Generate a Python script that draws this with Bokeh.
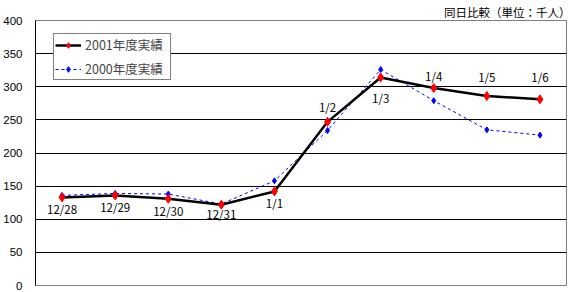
from bokeh.plotting import figure
from bokeh.models import Range1d, FactorRange, Legend, LegendItem, Title, ColumnDataSource, FixedTicker
from bokeh.core.properties import value
from bokeh.embed import file_html
from bokeh.resources import INLINE

dates = ["12/28", "12/29", "12/30", "12/31", "1/1", "1/2", "1/3", "1/4", "1/5", "1/6"]
y2001 = [133, 136, 131, 122, 142, 247, 314, 298, 286, 281]
y2000 = [136, 139, 138, 123, 158, 234, 326, 279, 235, 227]
y_ticks = [0, 50, 100, 150, 200, 250, 300, 350, 400]
title_text = "同日比較（単位：千人）"
name2001 = "2001年度実績"
name2000 = "2000年度実績"

# label placement (pixels, positive = below the point)
label_dy = [12, 12, 12, 9, 12, -15, 21, -12, -19, -22]

p = figure(width=571, height=292, x_range=FactorRange(*dates, range_padding=0),
           y_range=Range1d(0, 400), output_backend="svg", toolbar_location=None,
           min_border_left=32, min_border_right=5, min_border_top=2, min_border_bottom=7)

p.add_layout(Title(text=title_text, align="right", text_font_size="11.5px",
                   text_font="Noto Sans CJK JP", text_font_style="normal",
                   text_color="#000000", offset=-4, standoff=2), "above")

p.xaxis.visible = False
p.xgrid.grid_line_color = None
p.ygrid.grid_line_color = "#000000"
p.ygrid.grid_line_width = 1
p.ygrid.ticker = FixedTicker(ticks=y_ticks)
p.yaxis.ticker = FixedTicker(ticks=y_ticks)
p.yaxis.axis_line_color = "#000000"
p.yaxis.major_tick_line_color = None
p.yaxis.minor_tick_line_color = None
p.yaxis.major_label_standoff = 7
p.yaxis.major_label_text_font = "Liberation Sans"
p.yaxis.major_label_text_font_size = "11.5px"
p.yaxis.major_label_text_color = "#000000"
p.outline_line_color = "#808080"
p.outline_line_width = 1
p.background_fill_color = "white"

src = ColumnDataSource(dict(x=dates, y1=y2001, y0=y2000, dy=label_dy))

l0 = p.line("x", "y0", source=src, line_color="#0000ff", line_width=1, line_dash="3 3")
s0 = p.scatter("x", "y0", source=src, marker="diamond", size=6, fill_color="#0000ff", line_color="#0000ff")
l1 = p.line("x", "y1", source=src, line_color="#000000", line_width=2.5)
s1 = p.scatter("x", "y1", source=src, marker="diamond", size=9, fill_color="#ff0000", line_color="#ff0000")

p.text("x", "y1", text="x", source=src, y_offset="dy", text_align="center", text_baseline="middle",
       text_font=value("Noto Sans CJK JP"), text_font_size="11.5px", text_color="#000000")

legend = Legend(items=[LegendItem(label=name2001, renderers=[l1, s1]),
                       LegendItem(label=name2000, renderers=[l0, s0])],
                location=(18, 205), border_line_color="#000000", border_line_width=1,
                background_fill_color="white", background_fill_alpha=1,
                label_text_font="Noto Sans CJK JP", label_text_font_size="12.5px",
                glyph_width=26, glyph_height=14, label_height=14, label_width=84,
                label_standoff=4, spacing=5, padding=1, margin=0)
p.add_layout(legend)

open("out.html", "w").write(file_html(p, INLINE))
